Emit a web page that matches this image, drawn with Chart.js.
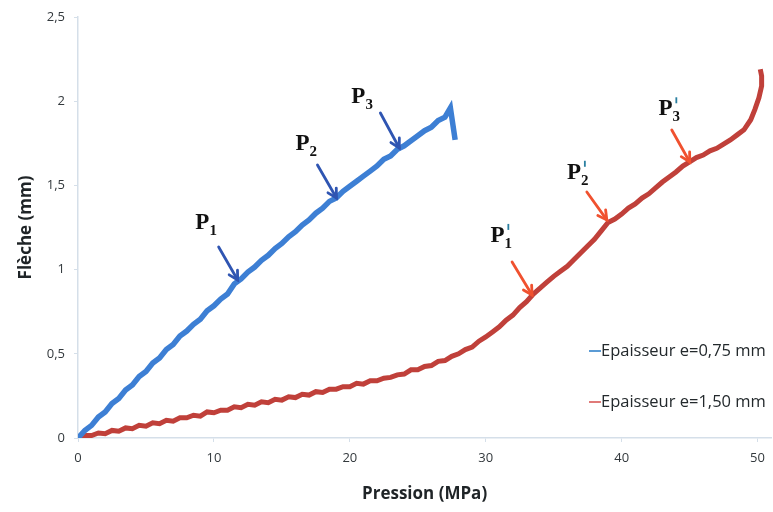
<!DOCTYPE html>
<html><head><meta charset="utf-8">
<script src="https://cdn.jsdelivr.net/npm/chart.js@4/dist/chart.umd.min.js"></script>
<style>html,body{margin:0;padding:0;background:#fff}</style>
</head><body>
<canvas id="c" width="773" height="512"></canvas>
<script>
// ---- data ----
const seriesLabels = ['Epaisseur e=0,75 mm', 'Epaisseur e=1,50 mm'];
const xTicks = [0, 10, 20, 30, 40, 50];
const yTicks = [0, 0.5, 1, 1.5, 2, 2.5];

const blueX = [0,0.5,1,1.5,2,2.5,3,3.5,4,4.5,5,5.5,6,6.5,7,7.5,8,8.5,9,9.5,10,10.5,11,11.5,12,12.5,13,13.5,14,14.5,15,15.5,16,16.5,17,17.5,18,18.5,19,19.5,20,20.5,21,21.5,22,22.5,23,23.5,24,24.5,25,25.5,26,26.5,27,27.4,27.75];
const blueY = [0,0.045,0.075,0.125,0.155,0.205,0.235,0.285,0.315,0.365,0.395,0.445,0.475,0.525,0.555,0.605,0.635,0.675,0.705,0.755,0.785,0.825,0.855,0.915,0.945,0.985,1.015,1.055,1.085,1.125,1.155,1.195,1.225,1.265,1.295,1.335,1.365,1.405,1.425,1.465,1.495,1.525,1.555,1.585,1.615,1.655,1.675,1.715,1.735,1.765,1.795,1.825,1.845,1.885,1.905,1.96,1.77];

const redX = [0,0.5,1,1.5,2,2.5,3,3.5,4,4.5,5,5.5,6,6.5,7,7.5,8,8.5,9,9.5,10,10.5,11,11.5,12,12.5,13,13.5,14,14.5,15,15.5,16,16.5,17,17.5,18,18.5,19,19.5,20,20.5,21,21.5,22,22.5,23,23.5,24,24.5,25,25.5,26,26.5,27,27.5,28,28.5,29,29.5,30,30.5,31,31.5,32,32.5,33,33.5,34,34.5,35,35.5,36,36.5,37,37.5,38,38.5,39,39.5,40,40.5,41,41.5,42,42.5,43,43.5,44,44.5,45,45.5,46,46.5,47,47.5,48,48.5,49,49.5,49.8,50.1,50.3,50.3,50.2];
const redY = [0,0.015,0.015,0.03,0.025,0.045,0.04,0.06,0.055,0.075,0.07,0.09,0.085,0.105,0.10,0.12,0.12,0.135,0.13,0.155,0.15,0.165,0.165,0.185,0.18,0.20,0.195,0.215,0.21,0.23,0.225,0.245,0.24,0.26,0.255,0.275,0.27,0.29,0.29,0.305,0.305,0.325,0.32,0.34,0.34,0.355,0.36,0.375,0.38,0.405,0.405,0.425,0.43,0.455,0.46,0.485,0.50,0.525,0.54,0.575,0.60,0.63,0.66,0.70,0.73,0.775,0.81,0.855,0.89,0.925,0.96,0.99,1.02,1.06,1.10,1.14,1.18,1.23,1.28,1.30,1.33,1.365,1.39,1.425,1.45,1.485,1.52,1.55,1.58,1.615,1.64,1.665,1.68,1.705,1.72,1.745,1.77,1.80,1.83,1.89,1.95,2.02,2.09,2.15,2.19];

// annotations (labels and arrows, in data units)
const annLabels = ['P','P','P','P','P','P'];
const annSubs = ['1','2','3','1','2','3'];
const annPrime = [false,false,false,true,true,true];
const annLabelX = [9.15,16.52,20.63,30.86,36.49,43.22];
const annLabelY = [1.278,1.746,2.027,1.20,1.575,1.952];
const annFromX = [10.35,17.62,22.25,31.94,37.44,43.69];
const annFromY = [1.134,1.621,1.93,1.045,1.461,1.829];
const annToX = [11.75,19.02,23.64,33.41,38.91,45.01];
const annToY = [0.938,1.425,1.722,0.849,1.295,1.639];
const annGroup = [0,0,0,1,1,1];

const lineColors = ['#3d7fd4', '#c0403a'];
const arrowColors = ['#2f55b2', '#f0512f'];
const legendColors = ['#5b9bd5', '#e07a78'];
const axisColor = '#d5dfe9';

const annotationPlugin = {
  id: 'annot',
  afterDatasetsDraw(chart) {
    const {ctx, scales:{x, y}} = chart;
    ctx.save();
    for (let i = 0; i < annLabels.length; i++) {
      const g = annGroup[i];
      const x1 = x.getPixelForValue(annFromX[i]), y1 = y.getPixelForValue(annFromY[i]);
      const x2 = x.getPixelForValue(annToX[i]), y2 = y.getPixelForValue(annToY[i]);
      ctx.strokeStyle = arrowColors[g];
      ctx.lineWidth = 2.8;
      ctx.lineCap = 'round';
      ctx.beginPath(); ctx.moveTo(x1, y1); ctx.lineTo(x2, y2); ctx.stroke();
      const ang = Math.atan2(y2 - y1, x2 - x1);
      const hl = 10;
      ctx.beginPath();
      ctx.moveTo(x2 - hl * Math.cos(ang - 0.5), y2 - hl * Math.sin(ang - 0.5));
      ctx.lineTo(x2, y2);
      ctx.lineTo(x2 - hl * Math.cos(ang + 0.5), y2 - hl * Math.sin(ang + 0.5));
      ctx.stroke();
      const lx = x.getPixelForValue(annLabelX[i]), ly = y.getPixelForValue(annLabelY[i]);
      ctx.fillStyle = '#111';
      ctx.font = 'bold 23px "Liberation Serif", "DejaVu Serif", serif';
      ctx.textAlign = 'center'; ctx.textBaseline = 'middle';
      ctx.fillText(annLabels[i], lx, ly);
      const pw = ctx.measureText(annLabels[i]).width;
      ctx.font = 'bold 15px "Liberation Serif", "DejaVu Serif", serif';
      ctx.textAlign = 'left';
      ctx.fillText(annSubs[i], lx + pw / 2, ly + 8);
      if (annPrime[i]) {
        ctx.fillStyle = '#2a7fa0';
        ctx.fillRect(lx + pw / 2 + 3, ly - 12, 1.8, 6);
      }
    }
    ctx.restore();
  }
};

const legendPlugin = {
  id: 'insideLegend',
  afterDraw(chart) {
    const {ctx} = chart;
    ctx.save();
    const rows = [351, 402];
    chart.data.datasets.forEach((ds, i) => {
      ctx.strokeStyle = legendColors[i];
      ctx.lineWidth = 2;
      ctx.beginPath(); ctx.moveTo(589, rows[i]); ctx.lineTo(601, rows[i]); ctx.stroke();
      ctx.fillStyle = '#23292c';
      ctx.font = '16.5px "Open Sans", "Liberation Sans", sans-serif';
      ctx.textAlign = 'left'; ctx.textBaseline = 'middle';
      ctx.fillText(ds.label, 601, rows[i]);
    });
    ctx.restore();
  }
};

const fmt = v => String(v).replace('.', ',');

new Chart(document.getElementById('c'), {
  type: 'scatter',
  data: {
    datasets: [
      { label: seriesLabels[0], data: blueX.map((v, i) => ({x: v, y: blueY[i]})), showLine: true,
        borderColor: lineColors[0], backgroundColor: lineColors[0], borderWidth: 5.5, pointRadius: 0, tension: 0 },
      { label: seriesLabels[1], data: redX.map((v, i) => ({x: v, y: redY[i]})), showLine: true,
        borderColor: lineColors[1], backgroundColor: lineColors[1], borderWidth: 5, pointRadius: 0, tension: 0 }
    ]
  },
  options: {
    responsive: false, animation: false, events: [],
    layout: { padding: { top: 17, right: 1, left: 0, bottom: 0 } },
    plugins: { legend: { display: false }, tooltip: { enabled: false } },
    scales: {
      x: {
        type: 'linear', min: 0, max: 51,
        afterFit: s => { s.height = 74; },
        afterBuildTicks: s => { s.ticks = xTicks.map(v => ({value: v})); },
        ticks: { callback: v => fmt(v), color: '#33393d', font: { size: 13, family: '"Open Sans", sans-serif' }, padding: 8, maxRotation: 0 },
        grid: { display: true, drawOnChartArea: false, drawTicks: true, tickLength: 4, color: axisColor },
        border: { color: axisColor, width: 1.5 },
        title: { display: true, text: 'Pression (MPa)', color: '#1f2427', font: { size: 17, weight: 'bold', family: '"Open Sans", sans-serif' }, padding: { top: 0, bottom: 8 } }
      },
      y: {
        type: 'linear', min: 0, max: 2.5,
        afterFit: s => { s.width = 78; },
        afterBuildTicks: s => { s.ticks = yTicks.map(v => ({value: v})); },
        ticks: { callback: v => fmt(v), color: '#33393d', font: { size: 13, family: '"Open Sans", sans-serif' }, padding: 9 },
        grid: { display: true, drawOnChartArea: false, drawTicks: true, tickLength: 4, color: axisColor },
        border: { color: axisColor, width: 1.5 },
        title: { display: true, text: 'Flèche (mm)', color: '#1f2427', font: { size: 17, weight: 'bold', family: '"Open Sans", sans-serif' }, padding: { top: 16, bottom: 0 } }
      }
    }
  },
  plugins: [annotationPlugin, legendPlugin]
});
</script>
</body></html>
